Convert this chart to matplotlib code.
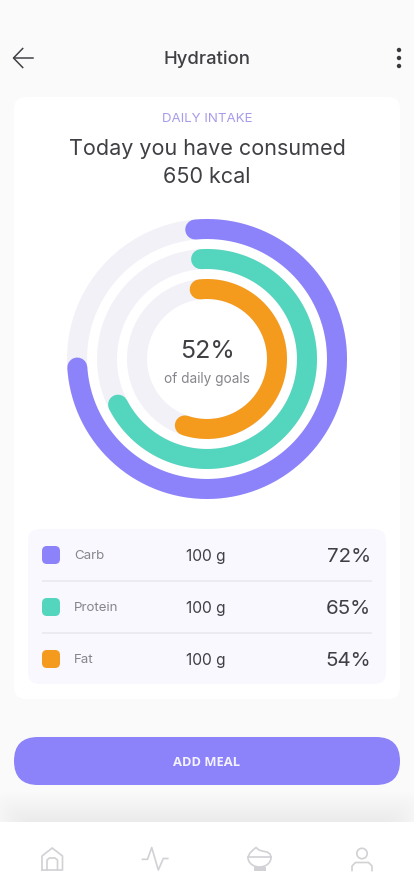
import numpy as np
import matplotlib
matplotlib.use("Agg")
import matplotlib.pyplot as plt
from matplotlib.patches import FancyBboxPatch, Rectangle, Circle, Arc

plt.rcParams['font.family'] = ['Inter', 'DejaVu Sans']

categories = ["Carb", "Protein", "Fat"]
amounts = ["100 g", "100 g", "100 g"]
percent_labels = ["72%", "65%", "54%"]
ring_sweep_percent = [75.4, 68.4, 56.8]
ring_radii = [130, 100, 70]
colors = ["#8C82FA", "#53D5BE", "#F49B1E"]
center_value = "52%"
center_caption = "of daily goals"

W, H, DPI = 414, 896, 100
px = 72 / DPI
DARK = "#3F3F44"
GREY = "#85858C"
TRACK = "#F2F1F7"
ring_start_deg = [-5.2, -3.4, -6.0]

fig = plt.figure(figsize=((W + 0.01) / DPI, (H + 0.01) / DPI), dpi=DPI, facecolor="#FAFAFA")
bg = fig.add_axes([0, 0, 1, 1])
bg.set_xlim(0, W); bg.set_ylim(H, 0); bg.axis("off")


def rrect(ax, x0, y0, x1, y1, r, **kw):
    p = FancyBboxPatch((x0 + r, y0 + r), x1 - x0 - 2 * r, y1 - y0 - 2 * r,
                       boxstyle=f"round,pad={r},rounding_size={r}", linewidth=0, **kw)
    ax.add_patch(p)
    return p


# soft shadow of the card
for g in range(40, 0, -2):
    rrect(bg, 14 - g, 97 - g + 4, 400 + g, 699 + g + 4, 12 + g, facecolor="#000000", alpha=0.0011, zorder=1)
rrect(bg, 14, 97, 400, 699, 12, facecolor="white", zorder=2)
rrect(bg, 28, 529, 386, 684, 12, facecolor="#F9F8FE", zorder=3)
rrect(bg, 14, 737, 400, 785, 24, facecolor=colors[0], zorder=3)
# nav shadow
for g in range(30, 0, -2):
    rrect(bg, 22 - g, 822 - g, 392 + g, 880, 14, facecolor="#000000", alpha=0.005, zorder=1)
bg.add_patch(Rectangle((0, 822), W, 74, facecolor="white", linewidth=0, zorder=4))

# header
bg.plot([32.7, 13.5], [58, 58], color=DARK, lw=1.5 * px, zorder=5)
bg.plot([22.7, 13.5, 22.7], [48.5, 58, 67.5], color=DARK, lw=1.5 * px, zorder=5)
for yy in (50, 58, 66):
    bg.add_patch(Circle((399, yy), 2.2, facecolor="#3A3A3E", linewidth=0, zorder=5))
T = dict(va="center_baseline", zorder=5)
bg.text(207, 56.8, "Hydration", ha="center", fontsize=13.3, fontweight="medium", color=DARK, **T)
bg.text(207.5, 117, "DAILY INTAKE", ha="center", fontsize=9.6, color="#A59CEB", **T)
bg.text(207, 147, "Today you have consumed", ha="center", fontsize=15.5, color=DARK, **T)
bg.text(207, 175, "650 kcal", ha="center", fontsize=15.5, color=DARK, **T)

# table rows
row_y = [555, 607, 659]
for i, cat in enumerate(categories):
    y = row_y[i]
    rrect(bg, 42, y - 9, 60, y + 9, 5, facecolor=colors[i], zorder=5)
    bg.text(74, y - 0.7, cat, ha="left", fontsize=9.6, color=GREY, **T)
    bg.text(186, y - 0.3, amounts[i], ha="left", fontsize=11.2, color=DARK, **T)
    bg.text(371, y - 0.5, percent_labels[i], ha="right", fontsize=14.8, color=DARK, **T)
for y in (581, 633):
    bg.plot([42, 372], [y, y], color="#E8E8EE", lw=1.6 * px, solid_capstyle="butt", zorder=5)

bg.text(207, 760.5, "ADD MEAL", ha="center", fontsize=9.4, fontweight="bold", color="#F4F2FF",
        family=["Open Sans", "DejaVu Sans"], **T)

# nav icons
ICON = "#D2D2D6"
lw = 1.7 * px
kw = dict(color=ICON, lw=lw, zorder=5, solid_joinstyle="round")
bg.plot([42, 42, 52.2, 62.5, 62.5, 42], [870, 856, 848, 856, 870, 870], **kw)
bg.plot([47, 47, 49.5, 55, 57.5, 57.5], [870, 860, 858, 858, 860, 870], **kw)
bg.plot([142.5, 147.5, 151.7, 158.3, 163.3, 167.7], [859.3, 859.3, 847.5, 870, 858.5, 858.5], **kw)
bg.plot([248, 250, 253, 256, 259, 262, 267, 270, 271],
        [857, 853, 850, 847.5, 850, 851, 852, 854, 857], **kw)
bg.plot([248, 271], [857, 857], **kw)
bg.add_patch(Arc((259.5, 857.5), 23, 19, theta1=0, theta2=180, edgecolor=ICON, lw=lw, zorder=5))
bg.add_patch(Rectangle((253.5, 867), 12.5, 4, facecolor=ICON, linewidth=0, zorder=5))
bg.add_patch(Circle((362, 853.5), 5.2, fill=False, edgecolor=ICON, lw=lw, zorder=5))
bg.plot([352, 352, 355.5, 368.5, 372, 372], [870.5, 866, 862.5, 862.5, 866, 870.5], **kw)

# rings
cx, cy, R = 207, 359, 142
pol = fig.add_axes([(cx - R) / W, 1 - (cy + R) / H, 2 * R / W, 2 * R / H], projection="polar", facecolor="none")
pol.set_theta_zero_location("N")
pol.set_theta_direction(-1)
pol.set_rlim(0, R)
pol.axis("off")
for i, rad in enumerate(ring_radii):
    th = np.linspace(0, 2 * np.pi, 361)
    pol.plot(th, np.full_like(th, rad), color=TRACK, lw=20 * px, solid_capstyle="butt", zorder=1)
    th = np.deg2rad(ring_start_deg[i]) + np.linspace(0, ring_sweep_percent[i] / 100 * 2 * np.pi, 300)
    pol.plot(th, np.full_like(th, rad), color=colors[i], lw=20 * px, solid_capstyle="round", zorder=2)

fig.text(207 / W, 1 - 348.7 / H, center_value, ha="center", va="center_baseline", fontsize=18, color=DARK)
fig.text(206.5 / W, 1 - 377 / H, center_caption, ha="center", va="center_baseline", fontsize=9.8, color=GREY)

fig.savefig("out.png", dpi=DPI, facecolor=fig.get_facecolor())
